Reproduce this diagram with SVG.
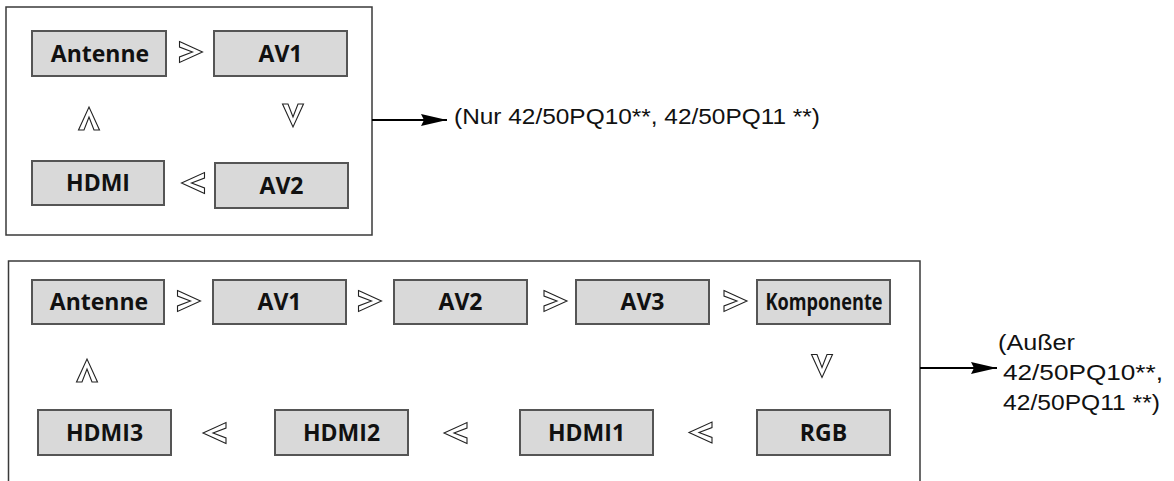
<svg xmlns="http://www.w3.org/2000/svg" xmlns:xlink="http://www.w3.org/1999/xlink" width="1174" height="481" viewBox="0 0 1174 481">
<style>
.frame{fill:none;stroke:#3a3a3a;stroke-width:1.5}
.box{fill:#d9d9d9;stroke:#555;stroke-width:2}
.lbl{font-family:"Open Sans","Noto Sans",sans-serif;font-weight:bold;font-size:23px;fill:#111;text-anchor:middle}
.note{font-family:"Liberation Sans","Noto Sans",sans-serif;font-size:22px;fill:#111}
.chev{fill:#fff;stroke:#222;stroke-width:1.1}
.conn{stroke:#000;stroke-width:2;fill:none}
</style>
<defs>
<path id="chev" d="M-11.5,-10.5 L11.5,0 L-11.5,10.5 L-11.5,5 L1.5,0 L-11.5,-5 Z"/>
<marker id="ah" markerUnits="userSpaceOnUse" markerWidth="27" markerHeight="14" refX="26" refY="7" orient="auto">
<path d="M0,1 L26,7 L0,13 L3,7 Z" fill="#000"/>
</marker>
</defs>
<rect width="1174" height="481" fill="#fff"/>

<g id="frame-top"><rect class="frame" x="6" y="7" width="366" height="228"/></g>
<g id="frame-bottom"><path class="frame" d="M8.5,481 V261 H920 V481"/></g>

<g id="n-antenne-a"><rect class="box" x="32" y="31" width="134" height="45"/><text class="lbl" x="100" y="61.5">Antenne</text></g>
<g id="n-av1-a"><rect class="box" x="214" y="31" width="133" height="45"/><text class="lbl" x="280.5" y="61.5">AV1</text></g>
<g id="n-hdmi-a"><rect class="box" x="32" y="161" width="132" height="44"/><text class="lbl" x="98" y="191">HDMI</text></g>
<g id="n-av2-a"><rect class="box" x="215" y="163" width="133" height="45"/><text class="lbl" x="281.5" y="193.5">AV2</text></g>

<g id="n-antenne-b"><rect class="box" x="32" y="280" width="132" height="44"/><text class="lbl" x="99" y="310">Antenne</text></g>
<g id="n-av1-b"><rect class="box" x="213" y="280" width="133" height="44"/><text class="lbl" x="279.5" y="310">AV1</text></g>
<g id="n-av2-b"><rect class="box" x="394" y="280" width="133" height="44"/><text class="lbl" x="460.5" y="310">AV2</text></g>
<g id="n-av3-b"><rect class="box" x="576" y="280" width="133" height="44"/><text class="lbl" x="642.5" y="310">AV3</text></g>
<g id="n-komponente-b"><rect class="box" x="757" y="280" width="133" height="44"/><text class="lbl" x="824" y="310" textLength="117" lengthAdjust="spacingAndGlyphs">Komponente</text></g>
<g id="n-hdmi3-b"><rect class="box" x="38" y="410" width="133" height="45"/><text class="lbl" x="104.5" y="440.5">HDMI3</text></g>
<g id="n-hdmi2-b"><rect class="box" x="275" y="410" width="133" height="45"/><text class="lbl" x="341.5" y="440.5">HDMI2</text></g>
<g id="n-hdmi1-b"><rect class="box" x="520" y="410" width="133" height="45"/><text class="lbl" x="586.5" y="440.5">HDMI1</text></g>
<g id="n-rgb-b"><rect class="box" x="757" y="410" width="133" height="45"/><text class="lbl" x="823.5" y="440.5">RGB</text></g>

<g id="connectors">
<use href="#chev" class="chev" transform="translate(191,52)"/>
<use href="#chev" class="chev" transform="translate(293,115.5) rotate(90)"/>
<use href="#chev" class="chev" transform="translate(193,183) rotate(180)"/>
<use href="#chev" class="chev" transform="translate(89,118.5) rotate(-90)"/>

<use href="#chev" class="chev" transform="translate(189,301)"/>
<use href="#chev" class="chev" transform="translate(370,301)"/>
<use href="#chev" class="chev" transform="translate(555.5,301)"/>
<use href="#chev" class="chev" transform="translate(735.5,301)"/>
<use href="#chev" class="chev" transform="translate(822,366) rotate(90)"/>
<use href="#chev" class="chev" transform="translate(700.5,432.5) rotate(180)"/>
<use href="#chev" class="chev" transform="translate(455.5,433) rotate(180)"/>
<use href="#chev" class="chev" transform="translate(214.5,433) rotate(180)"/>
<use href="#chev" class="chev" transform="translate(87,370.5) rotate(-90)"/>

<line class="conn" x1="372" y1="120" x2="447" y2="120" marker-end="url(#ah)"/>
<line class="conn" x1="920" y1="368" x2="997" y2="368" marker-end="url(#ah)"/>
</g>

<g id="notes">
<text class="note" x="454" y="124" textLength="366" lengthAdjust="spacingAndGlyphs">(Nur 42/50PQ10**, 42/50PQ11 **)</text>
<text class="note" x="998" y="350" textLength="77" lengthAdjust="spacingAndGlyphs">(Außer</text>
<text class="note" x="1003" y="380" textLength="160" lengthAdjust="spacingAndGlyphs">42/50PQ10**,</text>
<text class="note" x="1003" y="410" textLength="157" lengthAdjust="spacingAndGlyphs">42/50PQ11 **)</text>
</g>
</svg>
